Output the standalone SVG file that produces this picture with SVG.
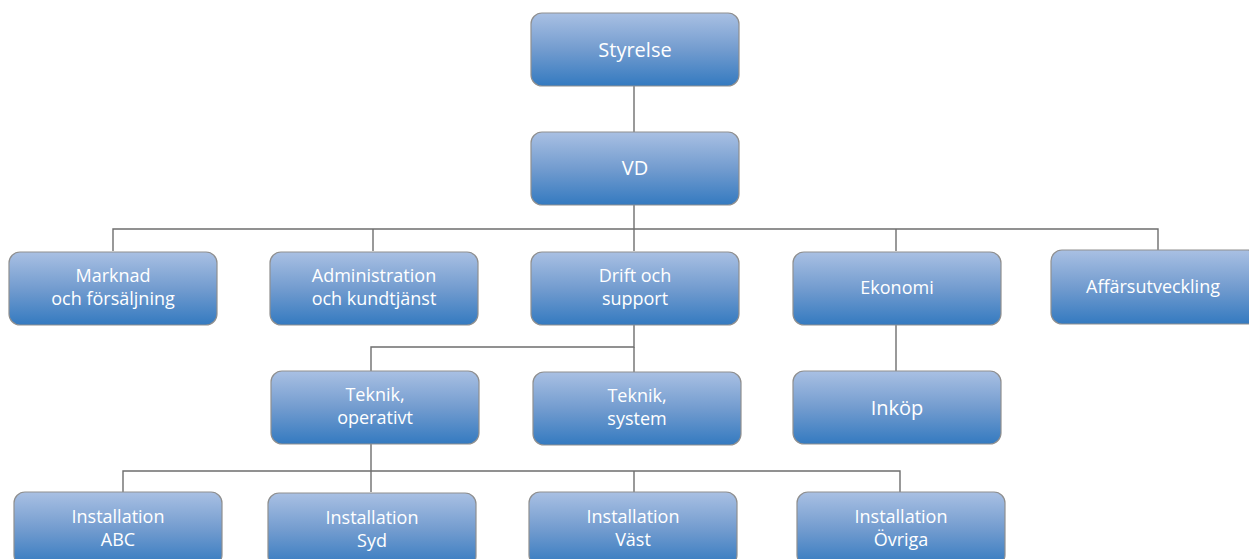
<svg xmlns="http://www.w3.org/2000/svg" width="1249" height="559" viewBox="0 0 1249 559">
<defs>
<linearGradient id="g" x1="0" y1="0" x2="0" y2="1">
<stop offset="0" stop-color="#a9c0e3"/>
<stop offset="0.5" stop-color="#739ccf"/>
<stop offset="1" stop-color="#347ac0"/>
</linearGradient>
<style>
.box{fill:url(#g);stroke:#8f8f8f;stroke-width:1.2}
.t{font-family:"Open Sans","Noto Sans",sans-serif;font-size:18px;fill:#ffffff;text-anchor:middle}
.tl{font-size:20px}
.c{stroke:#6e6e6e;stroke-width:1.4;fill:none}
</style>
</defs>
<rect width="1249" height="559" fill="#ffffff"/>
<g id="connectors">
<path class="c" d="M634 86V132"/>
<path class="c" d="M634 205V229"/>
<path class="c" d="M113 251V229H1158V250"/>
<path class="c" d="M373 229V251"/>
<path class="c" d="M634 229V251"/>
<path class="c" d="M896 229V251"/>
<path class="c" d="M634 325V347H371V371"/>
<path class="c" d="M634 347V372"/>
<path class="c" d="M896 325V371"/>
<path class="c" d="M371 444V471"/>
<path class="c" d="M123 492V471H900V492"/>
<path class="c" d="M371 471V492"/>
<path class="c" d="M634 471V492"/>
</g>
<g id="styrelse"><rect class="box" x="531" y="13" width="208" height="73" rx="11"/><text class="t tl" x="635" y="57">Styrelse</text></g>
<g id="vd"><rect class="box" x="531" y="132" width="208" height="73" rx="11"/><text class="t tl" x="635" y="175">VD</text></g>
<g id="marknad"><rect class="box" x="9" y="252" width="208" height="73" rx="11"/><text class="t" x="113" y="282">Marknad</text><text class="t" x="113" y="305">och försäljning</text></g>
<g id="administration"><rect class="box" x="270" y="252" width="208" height="73" rx="11"/><text class="t" x="374" y="282">Administration</text><text class="t" x="374" y="305">och kundtjänst</text></g>
<g id="drift"><rect class="box" x="531" y="252" width="208" height="73" rx="11"/><text class="t" x="635" y="282">Drift och</text><text class="t" x="635" y="305">support</text></g>
<g id="ekonomi"><rect class="box" x="793" y="252" width="208" height="73" rx="11"/><text class="t" x="897" y="294">Ekonomi</text></g>
<g id="affarsutveckling"><rect class="box" x="1051" y="250" width="208" height="74" rx="11"/><text class="t" x="1153" y="293">Affärsutveckling</text></g>
<g id="teknik-operativt"><rect class="box" x="271" y="371" width="208" height="73" rx="11"/><text class="t" x="375" y="401">Teknik,</text><text class="t" x="375" y="424">operativt</text></g>
<g id="teknik-system"><rect class="box" x="533" y="372" width="208" height="73" rx="11"/><text class="t" x="637" y="402">Teknik,</text><text class="t" x="637" y="425">system</text></g>
<g id="inkop"><rect class="box" x="793" y="371" width="208" height="73" rx="11"/><text class="t tl" x="897" y="415">Inköp</text></g>
<g id="inst-abc"><rect class="box" x="14" y="492" width="208" height="74" rx="11"/><text class="t" x="118" y="523">Installation</text><text class="t" x="118" y="546">ABC</text></g>
<g id="inst-syd"><rect class="box" x="268" y="493" width="208" height="74" rx="11"/><text class="t" x="372" y="524">Installation</text><text class="t" x="372" y="547">Syd</text></g>
<g id="inst-vast"><rect class="box" x="529" y="492" width="208" height="74" rx="11"/><text class="t" x="633" y="523">Installation</text><text class="t" x="633" y="546">Väst</text></g>
<g id="inst-ovriga"><rect class="box" x="797" y="492" width="208" height="74" rx="11"/><text class="t" x="901" y="523">Installation</text><text class="t" x="901" y="546">Övriga</text></g>
</svg>
